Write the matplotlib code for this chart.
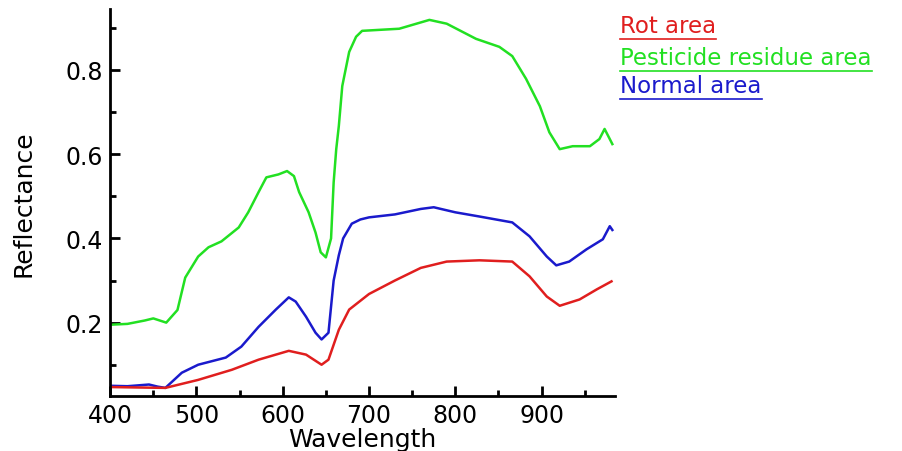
import matplotlib
matplotlib.use("Agg")
import matplotlib.pyplot as plt
from matplotlib.lines import Line2D
from matplotlib.ticker import MultipleLocator

# wavelength (nm) and reflectance
wl_green = [400, 420, 440, 450, 465, 478, 487, 502, 514, 529, 549, 560, 572, 581, 595,
            605, 613, 619, 630, 638, 644, 650, 656, 659, 662, 665, 669, 677, 685, 692,
            735, 770, 790, 824, 851, 866, 882, 898, 909, 921, 936, 956, 967, 973, 982]
green = [0.195, 0.197, 0.205, 0.21, 0.20, 0.23, 0.307, 0.357, 0.379, 0.393, 0.426, 0.462,
         0.51, 0.545, 0.552, 0.56, 0.548, 0.51, 0.462, 0.414, 0.367, 0.355, 0.40, 0.533,
         0.612, 0.667, 0.762, 0.843, 0.879, 0.893, 0.898, 0.919, 0.91, 0.874, 0.855,
         0.833, 0.779, 0.714, 0.652, 0.612, 0.619, 0.619, 0.636, 0.66, 0.624]

wl_blue = [400, 420, 445, 455, 464, 483, 502, 534, 552, 572, 592, 607, 615, 627, 638,
           645, 653, 659, 665, 670, 680, 690, 700, 730, 760, 775, 800, 828, 866, 886,
           906, 917, 932, 952, 971, 979, 982]
blue = [0.05, 0.049, 0.053, 0.048, 0.045, 0.081, 0.10, 0.117, 0.143, 0.19, 0.231, 0.26,
        0.25, 0.214, 0.176, 0.16, 0.176, 0.30, 0.36, 0.40, 0.435, 0.445, 0.45, 0.457,
        0.47, 0.474, 0.462, 0.452, 0.438, 0.405, 0.357, 0.336, 0.345, 0.374, 0.398,
        0.429, 0.42]

wl_red = [400, 430, 464, 502, 541, 572, 607, 627, 645, 653, 665, 677, 700, 730, 760,
          790, 828, 866, 886, 906, 921, 944, 964, 981]
red = [0.047, 0.046, 0.045, 0.064, 0.088, 0.112, 0.133, 0.124, 0.10, 0.112, 0.183,
       0.231, 0.268, 0.30, 0.33, 0.345, 0.348, 0.345, 0.31, 0.262, 0.24, 0.255, 0.279,
       0.298]

labels = ["Rot area", "Pesticide residue area", "Normal area"]
colors = ["#e01e1e", "#22e022", "#1a1acc"]

fig = plt.figure(figsize=(9.03, 4.52), dpi=100)
ax = fig.add_axes([0.122, 0.121, 0.559, 0.857])

ax.plot(wl_green, green, color=colors[1], lw=1.8)
ax.plot(wl_blue, blue, color=colors[2], lw=1.8)
ax.plot(wl_red, red, color=colors[0], lw=1.8)

ax.set_xlim(400, 985)
ax.set_ylim(0.025, 0.945)
ax.xaxis.set_major_locator(MultipleLocator(100))
ax.xaxis.set_minor_locator(MultipleLocator(50))
ax.yaxis.set_minor_locator(MultipleLocator(0.1))
ax.set_yticks([0.2, 0.4, 0.6, 0.8])
ax.set_yticklabels(["0.2", "0.4", "0.6", "0.8"])
ax.tick_params(which="both", direction="in", width=2)
ax.tick_params(which="major", length=7, labelsize=17, pad=5)
ax.tick_params(which="minor", length=4)
for s in ["top", "right"]:
    ax.spines[s].set_visible(False)
for s in ["left", "bottom"]:
    ax.spines[s].set_linewidth(2)
ax.set_xlabel("Wavelength", fontsize=18, labelpad=0)
ax.set_ylabel("Reflectance", fontsize=18, labelpad=22)

# legend: underlined coloured text at the right
fig.canvas.draw()
r = fig.canvas.get_renderer()
ys = [0.927, 0.856, 0.794]
for lab, c, y in zip(labels, colors, ys):
    t = fig.text(0.687, y, lab, color=c, fontsize=16.5, va="baseline")
    bb = t.get_window_extent(r).transformed(fig.transFigure.inverted())
    yl = bb.y0 - 0.004
    fig.add_artist(Line2D([bb.x0, bb.x1], [yl, yl], color=c, lw=1.2,
                          transform=fig.transFigure))

fig.savefig("out.png", dpi=100)
